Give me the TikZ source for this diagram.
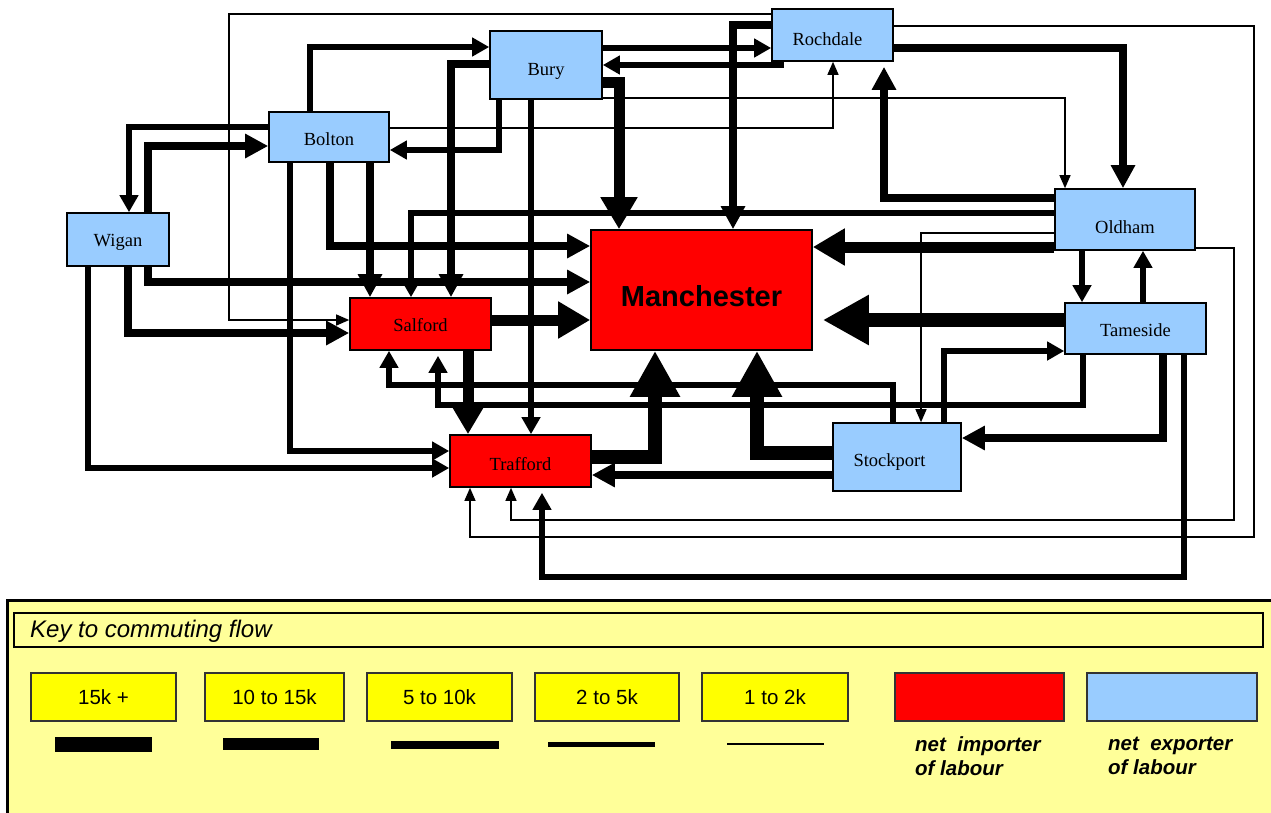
\documentclass[tikz,border=0pt]{standalone}
\usepackage{fontspec}
\setmainfont{Liberation Serif}
\newfontfamily\arialf{Liberation Sans}
\usetikzlibrary{arrows.meta,calc}
\definecolor{exportblue}{HTML}{99CCFF}
\definecolor{importred}{HTML}{FF0000}
\definecolor{keyyellow}{HTML}{FFFF00}
\definecolor{paleyellow}{HTML}{FFFF99}
\begin{document}
\begin{tikzpicture}[x=1pt,y=-1pt,
  town/.style={draw=black,line width=1.6pt,inner sep=0pt,text depth=1pt,font=\fontsize{18.5}{20}\selectfont},
  tdy/.style={text height=#1pt},
  exporter/.style={town,fill=exportblue},
  importer/.style={town,fill=importred},
  c1/.style={line width=1.3pt,-{Triangle[length=13pt,width=11pt]}},
  c2/.style={line width=5.5pt,-{Triangle[length=17pt,width=18pt]}},
  c3/.style={line width=7.5pt,-{Triangle[length=23pt,width=23pt]}},
  c4/.style={line width=11pt,-{Triangle[length=32pt,width=35pt]}},
  c5/.style={line width=14.5pt,-{Triangle[length=46pt,width=47pt]}},
  keybox/.style={draw=black!80,line width=1.2pt,fill=keyyellow,minimum height=48pt,inner sep=0pt,font=\arialf\fontsize{20.5}{22}\selectfont},
  keytext/.style={anchor=west,align=left,inner sep=0pt,font=\arialf\bfseries\itshape\fontsize{20.5}{24}\selectfont}
]
\useasboundingbox (0,0) rectangle (1271,812);
\fill[white] (0,0) rectangle (1271,812);
\clip (0,0) rectangle (1271,812);

% towns
\node[exporter,tdy=15.2,minimum width=102pt,minimum height=53pt] (Wigan) at (118,239.5) {Wigan};
\node[exporter,tdy=17.2,minimum width=120pt,minimum height=50pt] (Bolton) at (329,137) {Bolton};
\node[exporter,tdy=21.2,minimum width=112pt,minimum height=68pt] (Bury) at (546,65) {Bury};
\node[exporter,tdy=21.2,minimum width=121pt,minimum height=52pt] (Rochdale) at (832.5,35) {Rochdale\hspace*{10pt}};
\node[exporter,tdy=28.2,minimum width=140pt,minimum height=61pt] (Oldham) at (1125,219.5) {Oldham};
\node[exporter,tdy=17.2,minimum width=141pt,minimum height=51pt] (Tameside) at (1135.5,328.5) {Tameside};
\node[exporter,tdy=20.2,minimum width=128pt,minimum height=68pt] (Stockport) at (897,457) {Stockport\hspace*{15pt}};
\node[importer,tdy=34.8,minimum width=221pt,minimum height=120pt,font=\arialf\bfseries\fontsize{29}{30}\selectfont] (Manchester) at (701.5,290) {Manchester};
\node[importer,tdy=16.2,minimum width=141pt,minimum height=52pt] (Salford) at (420.5,324) {Salford};
\node[importer,tdy=20.2,minimum width=141pt,minimum height=52pt] (Trafford) at (520.5,461) {Trafford};

% thin flows (1 to 2k)
\draw[c1] (Bolton.east |- 0,128) -| (Rochdale.south -| 833,0);
\draw[c1] (Rochdale.west |- 0,14) -| (229,320) -- (Salford.west |- 0,320);
\draw[c1] (Bury.east |- 0,98) -| (Oldham.north -| 1065,0);
\draw[c1] (Rochdale.east |- 0,26) -| (1254,537) -| (Trafford.south -| 470,0);
\draw[c1] (Oldham.west |- 0,233) -| (Stockport.north -| 921,0);
\draw[c1] (Oldham.east |- 0,248) -| (1234,520) -| (Trafford.south -| 511,0);

% 2 to 5k
\draw[c2] (Bolton.west |- 0,127) -| (Wigan.north -| 129,0);
\draw[c2] (Wigan.south -| 88,0) |- (Trafford.west |- 0,468);
\draw[c2] (Bolton.north -| 310,0) |- (Bury.west |- 0,47);
\draw[c2] (Bolton.south -| 290,0) |- (Trafford.west |- 0,451);
\draw[c2] (Bury.south -| 499,0) |- (Bolton.east |- 0,150);
\draw[c2] (Bury.south -| 531,0) -- (Trafford.north -| 531,0);
\draw[c2] (Bury.east |- 0,48) -- (Rochdale.west |- 0,48);
\draw[c2] (Rochdale.south -| 781,0) |- (Bury.east |- 0,65);
\draw[c2] (Oldham.west |- 0,213) -| (Salford.north -| 411,0);
\draw[c2] (Oldham.south -| 1082,0) -- (Tameside.north -| 1082,0);
\draw[c2] (Tameside.north -| 1143,0) -- (Oldham.south -| 1143,0);
\draw[c2] (Stockport.north -| 944,0) |- (Tameside.west |- 0,351);
\draw[c2] (Tameside.south -| 1083,0) |- (438,405) -- ($(Salford.south -| 438,0)+(0,5)$);
\draw[c2] (Stockport.north -| 893,0) |- (389,385) -- (Salford.south -| 389,0);
\draw[c2] (Tameside.south -| 1184,0) |- (542,577) -- ($(Trafford.south -| 542,0)+(0,5)$);

% 5 to 10k
\draw[c3] (Wigan.north -| 148,0) |- (Bolton.west |- 0,146);
\draw[c3] (Wigan.south -| 148,0) |- (Manchester.west |- 0,282);
\draw[c3] (Wigan.south -| 128,0) |- (Salford.west |- 0,333);
\draw[c3] (Bolton.south -| 330,0) |- (Manchester.west |- 0,246);
\draw[c3] (Bolton.south -| 370,0) -- (Salford.north -| 370,0);
\draw[c3] (Bury.west |- 0,64) -| (Salford.north -| 451,0);
\draw[c3] (Rochdale.west |- 0,25) -| (Manchester.north -| 733,0);
\draw[c3] (Rochdale.east |- 0,48) -| (Oldham.north -| 1123,0);
\draw[c3] (Oldham.west |- 0,198) -| ($(Rochdale.south -| 884,0)+(0,5)$);
\draw[c3] (Tameside.south -| 1163,0) |- (Stockport.east |- 0,438);
\draw[c3] (Stockport.west |- 0,475) -- (Trafford.east |- 0,475);

% 10 to 15k
\draw[c4] (Bury.east |- 0,82) -| (Manchester.north -| 619,0);
\draw[c4] (Oldham.west |- 0,247) -- (Manchester.east |- 0,247);
\draw[c4] (Salford.east |- 0,320) -- (Manchester.west |- 0,320);
\draw[c4] (Salford.south -| 468,0) -- (Trafford.north -| 468,0);

% 15k +
\draw[c5] (Tameside.west |- 0,320) -- ($(Manchester.east |- 0,320)+(10,0)$);
\draw[c5] (Stockport.west |- 0,453) -| (Manchester.south -| 757,0);
\draw[c5] (Trafford.east |- 0,457) -| (Manchester.south -| 655,0);

% key
\draw[line width=3pt,fill=paleyellow] (7,600) rectangle (1300,830);
\draw[line width=2pt] (14,613) rectangle (1263,647);
\node[anchor=west,inner sep=0pt,font=\arialf\itshape\fontsize{24}{26}\selectfont] (keytitle) at (30,631) {Key to commuting flow};
\node[keybox,minimum width=145pt] (k15) at (103.5,697) {15k +};
\node[keybox,minimum width=139pt] (k10) at (274.5,697) {10 to 15k};
\node[keybox,minimum width=145pt] (k5) at (439.5,697) {5 to 10k};
\node[keybox,minimum width=144pt] (k2) at (607,697) {2 to 5k};
\node[keybox,minimum width=146pt] (k1) at (775,697) {1 to 2k};
\node[keybox,minimum width=169pt,fill=importred] (kimp) at (979.5,697) {};
\node[keybox,minimum width=170pt,fill=exportblue] (kexp) at (1172,697) {};
\fill (55,737) rectangle (152,752);
\fill (223,738) rectangle (319,750);
\fill (391,741) rectangle (499,749);
\fill (548,742) rectangle (655,747);
\fill (727,743) rectangle (824,745);
\node[keytext] (timp) at (915,756) {net\ \ importer\\of labour};
\node[keytext] (texp) at (1108,756) {net\ \ exporter\\of labour};
\end{tikzpicture}
\end{document}
